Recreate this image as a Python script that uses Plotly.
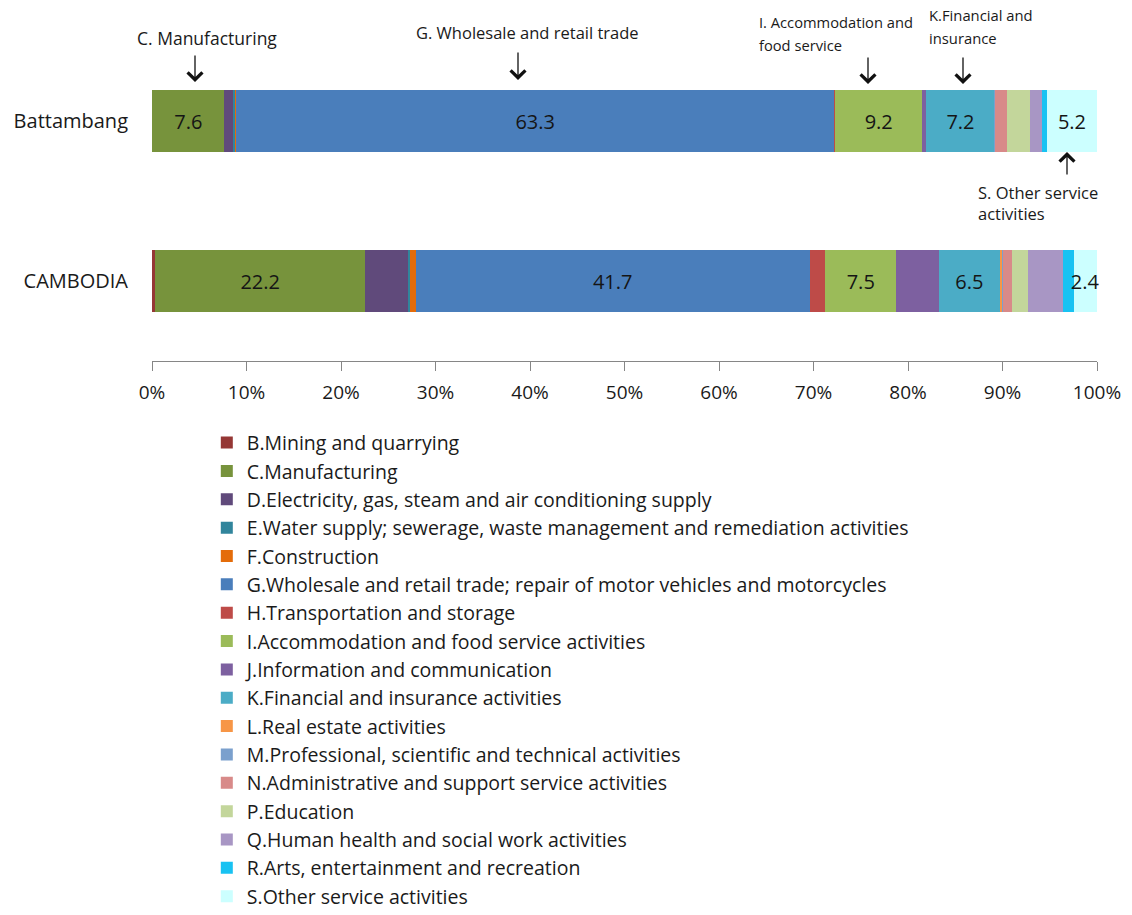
import plotly.graph_objects as go

regions = ["Battambang", "CAMBODIA"]

sectors = [
    "B.Mining and quarrying",
    "C.Manufacturing",
    "D.Electricity, gas, steam and air conditioning supply",
    "E.Water supply; sewerage, waste management and remediation activities",
    "F.Construction",
    "G.Wholesale and retail trade; repair of motor vehicles and motorcycles",
    "H.Transportation and storage",
    "I.Accommodation and food service activities",
    "J.Information and communication",
    "K.Financial and insurance activities",
    "L.Real estate activities",
    "M.Professional, scientific and technical activities",
    "N.Administrative and support service activities",
    "P.Education",
    "Q.Human health and social work activities",
    "R.Arts, entertainment and recreation",
    "S.Other service activities",
]

# share (%) per sector
battambang = [0.05, 7.6, 0.9, 0.3, 0.05, 63.3, 0.1, 9.2, 0.45, 7.2, 0.05, 0.05, 1.2, 2.5, 1.2, 0.6, 5.2]
cambodia = [0.35, 22.2, 4.5, 0.25, 0.6, 41.7, 1.65, 7.5, 4.5, 6.5, 0.2, 0.1, 0.95, 1.65, 3.7, 1.2, 2.4]

# which segments carry a data label
labelled = ["C.Manufacturing",
            "G.Wholesale and retail trade; repair of motor vehicles and motorcycles",
            "I.Accommodation and food service activities",
            "K.Financial and insurance activities",
            "S.Other service activities"]

colors = ["#953735", "#77933C", "#604A7B", "#31859C", "#E46C0A", "#4A7EBB",
          "#BE4B48", "#9BBB59", "#7D60A0", "#4BACC6", "#F79646", "#7BA0CD",
          "#D88A89", "#C3D69B", "#A896C4", "#18C2F2", "#CCFFFF"]

FONT = "Open Sans"

fig = go.Figure()
for i, name in enumerate(sectors):
    vals = [battambang[i], cambodia[i]]
    if name in labelled:
        txt = [f"{v:.1f}" for v in vals]
    else:
        txt = ["", ""]
    fig.add_trace(go.Bar(
        y=regions, x=vals, name=name, orientation="h",
        marker=dict(color=colors[i], line=dict(width=0)),
        text=txt, textposition="inside", insidetextanchor="middle",
        textangle=0, textfont=dict(size=20, color="#151515", family=FONT),
        cliponaxis=False, hoverinfo="name+x",
    ))

fig.update_layout(
    barmode="stack",
    bargap=0.61,
    width=1132, height=915,
    margin=dict(l=152, r=35, t=41, b=554, autoexpand=False),
    paper_bgcolor="white", plot_bgcolor="white",
    font=dict(family=FONT, size=18, color="#1a1a1a"),
    uniformtext=dict(mode="show", minsize=20),
    showlegend=True,
    legend=dict(
        orientation="v", x=0.058, xanchor="left", y=-0.195, yanchor="top",
        font=dict(size=19.5, family=FONT, color="#1a1a1a"),
        itemwidth=30, traceorder="normal", bgcolor="rgba(0,0,0,0)",
        maxheight=700,
    ),
    xaxis=dict(
        range=[0, 100], tickvals=[0, 10, 20, 30, 40, 50, 60, 70, 80, 90, 100],
        ticktext=["0%", "10%", "20%", "30%", "40%", "50%", "60%", "70%", "80%", "90%", "100%"],
        showgrid=False, zeroline=False, showline=True, linecolor="#868686", linewidth=1,
        ticks="outside", ticklen=9, tickcolor="#868686", ticklabelstandoff=5,
        tickfont=dict(size=19, family=FONT, color="#1a1a1a"),
        fixedrange=True,
    ),
    yaxis=dict(
        categoryorder="array", categoryarray=["CAMBODIA", "Battambang"],
        range=[-0.5, 1.5], showgrid=False, zeroline=False, showline=False,
        ticks="", ticklabelstandoff=23,
        tickfont=dict(size=20, family=FONT, color="#1a1a1a"),
        fixedrange=True,
    ),
)

# callout texts: text, pixel x, pixel y (centre), anchor, font size
texts = [
    ("C. Manufacturing", 207, 38, "center", 17.5),
    ("G. Wholesale and retail trade", 527, 32, "center", 16.5),
    ("I. Accommodation and", 757, 22, "left", 14.7),
    ("food service", 757, 45, "left", 14.7),
    ("K.Financial and", 927, 15, "left", 14.8),
    ("insurance", 927, 38, "left", 14.8),
    ("S. Other service", 976, 192, "left", 16.5),
    ("activities", 976, 213, "left", 16.5),
]
for t, px, py, anc, fs in texts:
    fig.add_annotation(
        text=t, xref="paper", yref="paper",
        x=(px - 152) / 945, y=(361 - py) / 320,
        xanchor=anc, yanchor="middle", align="left", showarrow=False,
        font=dict(size=fs, family=FONT, color="#1a1a1a"),
    )

arrows = [  # pixel tip x, tip y, tail offset y
    (195, 82, -28),
    (518, 80, -29),
    (868, 84, -28),
    (963, 84, -28),
    (1067, 152, 24),
]
for px, py, ay in arrows:
    fig.add_annotation(
        text="", xref="paper", yref="paper",
        x=(px - 152) / 945, y=(361 - py) / 320,
        showarrow=True, arrowhead=4, arrowsize=2.2, arrowwidth=1.3,
        arrowcolor="#111111", ax=0, ay=ay, standoff=0,
    )

fig.write_html("out.html", config={"displayModeBar": False},
               post_script="document.body.style.margin='0';")
